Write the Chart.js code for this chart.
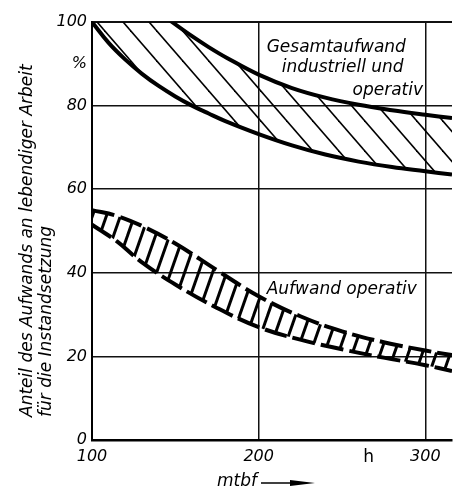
<!DOCTYPE html>
<html><head><meta charset="utf-8">
<script src="https://cdn.jsdelivr.net/npm/chart.js@4.4.1/dist/chart.umd.min.js"></script>
<style>html,body{margin:0;padding:0;background:#fff;}</style>
</head><body>
<canvas id="c" width="454" height="497"></canvas>
<script>
// ---- data (x = mtbf in h, y = percent) ----
const X_TICKS = [100, 200, 266, 300];
const X_LABELS = ['100', '200', 'h', '300'];
const Y_TICK_VALUES = [0, 20, 40, 60, 80, 90, 100];
const Y_TICK_LABELS = ['0', '20', '40', '60', '80', '%', '100'];

// Gesamtaufwand industriell und operativ (upper and lower bound)
const GES_HIGH_X = [100, 148, 160, 170, 181, 200, 220, 240, 260, 280, 300, 316];
const GES_HIGH_Y = [114, 100, 96.6, 94.0, 91.4, 87.4, 84.2, 81.9, 80.2, 78.9, 77.8, 77.0];
const GES_LOW_X = [100, 110, 120, 130, 140, 150, 160, 170, 180, 200, 220, 240, 260, 280, 300, 316];
const GES_LOW_Y = [100, 95, 91, 87.6, 84.7, 82.2, 80, 78.1, 76.3, 73.2, 70.5, 68.3, 66.6, 65.3, 64.3, 63.5];

// Aufwand operativ (upper and lower bound)
const OP_X = [100, 115, 130, 150, 175, 200, 225, 250, 275, 300, 316];
const OP_HIGH_Y = [55, 53.6, 51.2, 47, 40.6, 34.4, 29.6, 26, 23.4, 21.4, 20.3];
const OP_LOW_Y = [51.5, 47.5, 42.5, 37.2, 31.6, 27.0, 24.0, 21.7, 19.7, 17.9, 16.5];

const Y_TITLE = ['Anteil des Aufwands an lebendiger Arbeit', 'für die Instandsetzung'];
const X_TITLE = 'mtbf';
const LABEL_GES = ['Gesamtaufwand', 'industriell und', 'operativ'];
const LABEL_OP = 'Aufwand operativ';

const FONT = '"DejaVu Sans", "Liberation Sans", sans-serif';

function zip(xs, ys) { return xs.map((x, i) => ({ x: x, y: ys[i] })); }

function hatch(w, h, lw, dir) {
  const c = document.createElement('canvas');
  c.width = w; c.height = h;
  const g = c.getContext('2d');
  g.strokeStyle = '#000'; g.lineWidth = lw;
  for (const k of [-1, 0, 1]) {
    g.beginPath();
    if (dir > 0) { g.moveTo(k * w - w, -h); g.lineTo(k * w + 2 * w, 2 * h); }
    else { g.moveTo(k * w + 2 * w, -h); g.lineTo(k * w - w, 2 * h); }
    g.stroke();
  }
  return g.createPattern(c, 'repeat');
}
const hatchUpper = hatch(26, 30, 1.6, 1);
const hatchLower = hatch(14, 40, 3, -1);

const textPlugin = {
  id: 'texts',
  afterDraw(chart) {
    const ctx = chart.ctx, xs = chart.scales.x, ys = chart.scales.y;
    ctx.save();
    ctx.fillStyle = '#000';
    ctx.font = 'italic 17px ' + FONT;
    ctx.textBaseline = 'middle';
    ctx.textAlign = 'left';
    const px = v => xs.getPixelForValue(v), py = v => ys.getPixelForValue(v);
    ctx.fillText(LABEL_GES[0], px(204.8), py(93.8));
    ctx.fillText(LABEL_GES[1], px(213.8), py(89));
    ctx.fillText(LABEL_GES[2], px(256.3), py(83.7));
    ctx.fillText(LABEL_OP, px(204.8), py(35.9));
    // y title
    ctx.save();
    ctx.translate(28, 417);
    ctx.rotate(-Math.PI / 2);
    ctx.fillText(Y_TITLE[0], 0, 0);
    ctx.fillText(Y_TITLE[1], 0, 19);
    ctx.restore();
    // x title with arrow
    ctx.fillText(X_TITLE, 217, 482);
    ctx.strokeStyle = '#000'; ctx.lineWidth = 1.5;
    ctx.beginPath(); ctx.moveTo(261, 483); ctx.lineTo(296, 483); ctx.stroke();
    ctx.beginPath(); ctx.moveTo(290, 480); ctx.lineTo(315, 483); ctx.lineTo(290, 486); ctx.closePath(); ctx.fill();
    ctx.restore();
  }
};

new Chart(document.getElementById('c'), {
  type: 'line',
  data: {
    datasets: [
      { data: zip(GES_HIGH_X, GES_HIGH_Y), borderColor: '#000', borderWidth: 4, pointRadius: 0,
        fill: '+1', backgroundColor: hatchUpper, tension: 0.4 },
      { data: zip(GES_LOW_X, GES_LOW_Y), borderColor: '#000', borderWidth: 4, pointRadius: 0,
        fill: false, tension: 0.4 },
      { data: zip(OP_X, OP_HIGH_Y), borderColor: '#000', borderWidth: 4, borderDash: [23, 6], pointRadius: 0,
        fill: '+1', backgroundColor: hatchLower, tension: 0.4 },
      { data: zip(OP_X, OP_LOW_Y), borderColor: '#000', borderWidth: 4, borderDash: [23, 6], pointRadius: 0,
        fill: false, tension: 0.4 }
    ]
  },
  options: {
    responsive: false, animation: false, events: [],
    layout: { padding: { top: 22, right: 2, left: 0, bottom: 0 } },
    plugins: { legend: { display: false }, tooltip: { enabled: false } },
    scales: {
      x: {
        type: 'linear', min: 100, max: 316,
        afterBuildTicks: s => { s.ticks = X_TICKS.map(v => ({ value: v })); },
        afterFit: s => { s.height = 57; },
        ticks: {
          autoSkip: false, maxRotation: 0, padding: 7, color: '#000',
          callback: v => { const i = X_TICKS.indexOf(v); return i >= 0 ? X_LABELS[i] : ''; },
          font: c => (c.tick && c.tick.label === 'h') ? { family: FONT, size: 17, style: 'normal' } : { family: FONT, size: 16, style: 'italic' }
        },
        grid: { drawTicks: false, lineWidth: 1.5,
          color: c => (c.tick && (c.tick.value === 200 || c.tick.value === 300)) ? '#111' : 'rgba(0,0,0,0)' },
        border: { display: true, color: '#000', width: 2.5 }
      },
      y: {
        min: 0, max: 100,
        afterBuildTicks: s => { s.ticks = Y_TICK_VALUES.map(v => ({ value: v })); },
        afterFit: s => { s.width = 92; },
        ticks: {
          padding: 5, color: '#000', font: { family: FONT, size: 16, style: 'italic' },
          callback: v => { const i = Y_TICK_VALUES.indexOf(v); return i >= 0 ? Y_TICK_LABELS[i] : ''; }
        },
        grid: { drawTicks: false,
          lineWidth: c => (c.tick && c.tick.value === 100) ? 2 : 1.5,
          color: c => (c.tick && [20, 40, 60, 80, 100].includes(c.tick.value)) ? '#111' : 'rgba(0,0,0,0)' },
        border: { display: true, color: '#000', width: 2 }
      }
    }
  },
  plugins: [textPlugin]
});
</script>
</body></html>
